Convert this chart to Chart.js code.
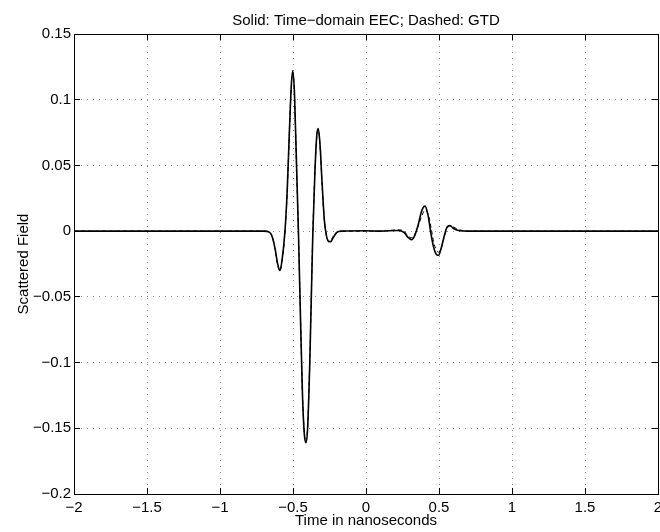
<!DOCTYPE html>
<html>
<head>
<meta charset="utf-8">
<script src="https://cdn.jsdelivr.net/npm/chart.js@4/dist/chart.umd.min.js"></script>
<style>
  html, body { margin: 0; padding: 0; background: #fff; }
  canvas { display: block; }
</style>
</head>
<body>
<canvas id="chart" width="660" height="532"></canvas>
<script>
// time samples (ns)
const timeNs = [
  -2.0, -0.70, -0.66, -0.64, -0.62, -0.605, -0.589, -0.575, -0.555, -0.54,
  -0.525, -0.512, -0.502, -0.49, -0.477, -0.463, -0.45, -0.435, -0.422, -0.411,
  -0.40, -0.385, -0.365, -0.35, -0.337, -0.327, -0.315, -0.30, -0.285, -0.27,
  -0.255, -0.242, -0.225, -0.20, -0.17, 0.0, 0.10, 0.22, 0.26, 0.29,
  0.313, 0.335, 0.358, 0.38, 0.404, 0.425, 0.445, 0.465, 0.485, 0.497,
  0.515, 0.535, 0.555, 0.575, 0.60, 0.64, 0.70, 2.0
]

// solid: time-domain EEC
const eecField = [
  0, 0, -0.001, -0.005, -0.015, -0.025, -0.030, -0.022, 0.000, 0.030,
  0.075, 0.110, 0.122, 0.105, 0.055, 0.000, -0.060, -0.125, -0.155, -0.161,
  -0.150, -0.100, -0.005, 0.045, 0.073, 0.078, 0.066, 0.035, 0.008, -0.004,
  -0.008, -0.008, -0.005, -0.001, 0, 0.0003, 0, 0.0005, -0.001, -0.005,
  -0.0065, -0.003, 0.005, 0.015, 0.019, 0.012, -0.002, -0.013, -0.018, -0.0183,
  -0.013, -0.004, 0.003, 0.0042, 0.002, 0.0003, 0, 0
]

// dashed: GTD
const gtdField = [
  0, 0, -0.001, -0.005, -0.016, -0.026, -0.030, -0.023, -0.001, 0.029,
  0.074, 0.109, 0.121, 0.104, 0.054, 0.000, -0.059, -0.124, -0.154, -0.160,
  -0.149, -0.099, -0.004, 0.045, 0.072, 0.077, 0.065, 0.034, 0.008, -0.004,
  -0.007, -0.007, -0.004, -0.001, 0, 0, 0, 0.001, 0, -0.004,
  -0.005, -0.002, 0.004, 0.011, 0.016, 0.013, 0.003, -0.009, -0.015, -0.016,
  -0.013, -0.005, 0.002, 0.004, 0.003, 0.001, 0, 0
]

const xRange = [-2, 2]
const xStep = 0.5
const yRange = [-0.2, 0.15]
const yStep = 0.05

const fmt = (v) => String(Math.round(v * 100) / 100).replace('-', '\u2212')

Chart.defaults.font.family = '"Liberation Sans", Arial, Helvetica, sans-serif'
Chart.defaults.font.size = 15
Chart.defaults.color = '#000'

const fixSize = (size) => (scale) => {
  if (scale.isHorizontal()) scale.height = size
  else scale.width = size
  scale.paddingLeft = 0
  scale.paddingRight = 0
  scale.paddingTop = 0
  scale.paddingBottom = 0
}

const gridStyle = (onArea) => ({
  display: true,
  drawOnChartArea: onArea,
  color: '#8a8a8a',
  lineWidth: 1,
  drawTicks: true,
  tickLength: -6,
  tickColor: '#000',
  tickWidth: 1
})

const borderStyle = { display: true, color: '#000', width: 1, dash: [1, 5] }

new Chart(document.getElementById('chart'), {
  type: 'line',
  data: {
    datasets: [
      {
        label: 'Time-domain EEC',
        data: timeNs.map((t, i) => ({ x: t, y: eecField[i] })),
        borderColor: '#000',
        borderWidth: 1.6,
        pointRadius: 0,
        cubicInterpolationMode: 'monotone',
        xAxisID: 'x',
        yAxisID: 'y'
      },
      {
        label: 'GTD',
        data: timeNs.map((t, i) => ({ x: t, y: gtdField[i] })),
        borderColor: '#000',
        borderWidth: 1,
        borderDash: [4, 3],
        pointRadius: 0,
        cubicInterpolationMode: 'monotone',
        xAxisID: 'x',
        yAxisID: 'y'
      }
    ]
  },
  options: {
    responsive: false,
    animation: false,
    devicePixelRatio: 1,
    layout: { padding: 0 },
    plugins: {
      legend: { display: false },
      tooltip: { enabled: false },
      title: { display: false }
    },
    scales: {
      x: {
        type: 'linear',
        position: 'bottom',
        min: xRange[0],
        max: xRange[1],
        ticks: { stepSize: xStep, padding: 11, maxRotation: 0, autoSkip: false, callback: fmt },
        grid: gridStyle(true),
        border: borderStyle,
        title: { display: true, text: 'Time in nanoseconds', padding: { top: 0, bottom: 2 } },
        afterFit: fixSize(38)
      },
      xTop: {
        type: 'linear',
        position: 'top',
        min: xRange[0],
        max: xRange[1],
        ticks: { stepSize: xStep, display: false },
        grid: gridStyle(false),
        border: borderStyle,
        title: { display: true, text: 'Solid: Time\u2212domain EEC; Dashed: GTD', padding: { top: 12, bottom: 0 } },
        afterFit: fixSize(34)
      },
      y: {
        type: 'linear',
        position: 'left',
        min: yRange[0],
        max: yRange[1],
        ticks: { stepSize: yStep, padding: 9, callback: fmt },
        grid: gridStyle(true),
        border: borderStyle,
        title: { display: true, text: 'Scattered Field', padding: { top: 15, bottom: 0 } },
        afterFit: fixSize(74)
      },
      yRight: {
        type: 'linear',
        position: 'right',
        min: yRange[0],
        max: yRange[1],
        ticks: { stepSize: yStep, display: false },
        grid: gridStyle(false),
        border: borderStyle,
        afterFit: fixSize(2)
      }
    }
  }
})
</script>
</body>
</html>
